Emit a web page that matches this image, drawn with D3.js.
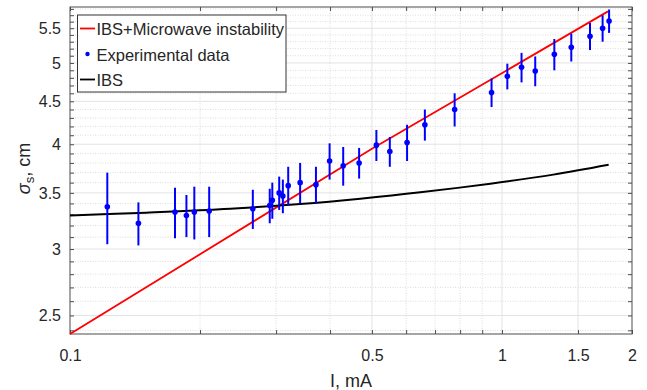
<!DOCTYPE html>
<html>
<head>
<meta charset="utf-8">
<script src="https://cdn.jsdelivr.net/npm/d3@7"></script>
<style>
  body { margin: 0; background: #fff; }
  text { font-family: "Liberation Sans", Arial, Helvetica, sans-serif; fill: #262626; }
</style>
</head>
<body>
<div id="chart"></div>
<script>
// Experimental bunch length vs current
const expCurrent = [0.122, 0.144, 0.175, 0.186, 0.194, 0.210, 0.265, 0.290, 0.294, 0.305, 0.311,
  0.320, 0.341, 0.371, 0.399, 0.429, 0.467, 0.512, 0.550, 0.603, 0.663, 0.777, 0.946, 1.029,
  1.110, 1.194, 1.322, 1.447, 1.599, 1.710, 1.770];
const expSigma = [3.37, 3.22, 3.32, 3.29, 3.32, 3.33, 3.35, 3.38, 3.43, 3.50, 3.47,
  3.57, 3.60, 3.58, 3.82, 3.77, 3.80, 3.99, 3.92, 4.02, 4.22, 4.40, 4.61, 4.82,
  4.94, 4.89, 5.12, 5.22, 5.38, 5.50, 5.61];
const expError = [0.33, 0.19, 0.23, 0.19, 0.24, 0.23, 0.18, 0.16, 0.17, 0.16, 0.16,
  0.19, 0.20, 0.18, 0.19, 0.20, 0.16, 0.17, 0.16, 0.20, 0.18, 0.20, 0.18, 0.17,
  0.20, 0.20, 0.22, 0.20, 0.20, 0.20, 0.18];

// IBS only model
const ibsCurrent = [0.1, 0.15, 0.235, 0.341, 0.47, 0.647, 0.94, 1.315, 1.766];
const ibsSigma = [3.29, 3.315, 3.35, 3.395, 3.445, 3.505, 3.59, 3.68, 3.78];

// IBS + microwave instability model (straight in log-log)
const mwCurrent = [0.1, 0.5, 1.76];
const mwSigma = [2.376, 3.95, 5.76];

// axis ticks
const xTicks = [0.1, 0.5, 1, 1.5, 2];
const xMinor = [0.2, 0.3, 0.4, 0.6, 0.7, 0.8, 0.9];
const yTicks = [2.5, 3, 3.5, 4, 4.5, 5, 5.5];

const width = 647, height = 390;
const margin = { top: 7, right: 15, bottom: 56, left: 70 };

const svg = d3.select("#chart").append("svg")
  .attr("width", width)
  .attr("height", height);

const x = d3.scaleLog()
  .domain([0.1, 2])
  .range([margin.left, width - margin.right]);

const y = d3.scaleLog()
  .domain([2.376, 5.83])
  .range([height - margin.bottom, margin.top]);

const yMinor = d3.range(24, 59).map(d => d / 10).filter(d => !yTicks.includes(d));

const x0 = x.range()[0], x1 = x.range()[1];
const y0 = y.range()[0], y1 = y.range()[1];

// minor grid (dotted)
const grid = svg.append("g");
grid.selectAll(".ym").data(yMinor).join("line")
  .attr("x1", x0).attr("x2", x1)
  .attr("y1", d => y(d)).attr("y2", d => y(d))
  .attr("stroke", "#d4d4d4").attr("stroke-width", 0.8)
  .attr("stroke-dasharray", "1,1.5");
grid.selectAll(".xm").data(xMinor).join("line")
  .attr("y1", y0).attr("y2", y1)
  .attr("x1", d => x(d)).attr("x2", d => x(d))
  .attr("stroke", "#d4d4d4").attr("stroke-width", 0.8)
  .attr("stroke-dasharray", "1,1.5");

// major grid (solid)
grid.selectAll(".yM").data(yTicks).join("line")
  .attr("x1", x0).attr("x2", x1)
  .attr("y1", d => y(d)).attr("y2", d => y(d))
  .attr("stroke", "#e3e3e3").attr("stroke-width", 1);
grid.selectAll(".xM").data(xTicks.slice(1, -1)).join("line")
  .attr("y1", y0).attr("y2", y1)
  .attr("x1", d => x(d)).attr("x2", d => x(d))
  .attr("stroke", "#e3e3e3").attr("stroke-width", 1);

// axes with ticks on all four sides
const axisColor = "#4d4d4d";
function styleAxis(g) {
  g.select(".domain").remove();
  g.selectAll(".tick line").attr("stroke", axisColor);
  g.selectAll(".tick text").attr("font-size", "16px").attr("fill", "#262626");
}
const allX = xTicks.concat(xMinor);
const allY = yTicks.concat(yMinor);

svg.append("g")
  .attr("transform", `translate(0,${y0})`)
  .call(d3.axisBottom(x).tickValues(allX).tickSize(-4).tickPadding(16)
    .tickFormat(d => xTicks.includes(d) ? d3.format("")(d) : ""))
  .call(styleAxis);
svg.append("g")
  .attr("transform", `translate(0,${y1})`)
  .call(d3.axisTop(x).tickValues(allX).tickSize(-4).tickFormat(""))
  .call(styleAxis);
svg.append("g")
  .attr("transform", `translate(${x0},0)`)
  .call(d3.axisLeft(y).tickValues(allY).tickSize(-4).tickPadding(9)
    .tickFormat(d => yTicks.includes(d) ? d3.format("")(d) : ""))
  .call(styleAxis);
svg.append("g")
  .attr("transform", `translate(${x1},0)`)
  .call(d3.axisRight(y).tickValues(allY).tickSize(-4).tickFormat(""))
  .call(styleAxis);

// box
svg.append("rect")
  .attr("x", x0).attr("y", y1)
  .attr("width", x1 - x0).attr("height", y0 - y1)
  .attr("fill", "none").attr("stroke", axisColor).attr("stroke-width", 1);

// model curves
const plot = svg.append("g");
const lineMw = d3.line().x(d => x(d[0])).y(d => y(d[1]));
const lineIbs = d3.line().curve(d3.curveCatmullRom).x(d => x(d[0])).y(d => y(d[1]));

plot.append("path")
  .datum(d3.zip(mwCurrent, mwSigma))
  .attr("fill", "none").attr("stroke", "#ff0000").attr("stroke-width", 1.8)
  .attr("d", lineMw);

plot.append("path")
  .datum(d3.zip(ibsCurrent, ibsSigma))
  .attr("fill", "none").attr("stroke", "#000").attr("stroke-width", 2)
  .attr("d", lineIbs);

// experimental points with error bars
const expData = expCurrent.map((c, i) => ({ c, s: expSigma[i], e: expError[i] }));
plot.selectAll(".err").data(expData).join("line")
  .attr("x1", d => x(d.c)).attr("x2", d => x(d.c))
  .attr("y1", d => y(d.s - d.e)).attr("y2", d => y(d.s + d.e))
  .attr("stroke", "#0000ff").attr("stroke-width", 2);
plot.selectAll(".pt").data(expData).join("circle")
  .attr("cx", d => x(d.c)).attr("cy", d => y(d.s))
  .attr("r", 2.8).attr("fill", "#0000ff");

// legend
const lg = svg.append("g");
lg.append("rect")
  .attr("x", 77.5).attr("y", 15).attr("width", 208.5).attr("height", 77)
  .attr("fill", "#fff").attr("stroke", "#333").attr("stroke-width", 1);
const legendItems = [
  { label: "IBS+Microwave instability", kind: "line", color: "#ff0000" },
  { label: "Experimental data", kind: "dot", color: "#0000ff" },
  { label: "IBS", kind: "line", color: "#000" }
];
legendItems.forEach((it, i) => {
  const cy = 28.5 + i * 25.5;
  if (it.kind === "line") {
    lg.append("line").attr("x1", 80).attr("x2", 95).attr("y1", cy).attr("y2", cy)
      .attr("stroke", it.color).attr("stroke-width", 1.8);
  } else {
    lg.append("circle").attr("cx", 87.5).attr("cy", cy).attr("r", 2.2).attr("fill", it.color);
  }
  lg.append("text").attr("x", 96.5).attr("y", cy + 6.5)
    .attr("font-size", "16.5px").text(it.label);
});

// axis labels
svg.append("text")
  .attr("x", (x0 + x1) / 2).attr("y", 387)
  .attr("text-anchor", "middle").attr("font-size", "18px")
  .text("I, mA");

const yl = svg.append("text")
  .attr("transform", `translate(30,${(y0 + y1) / 2 - 2}) rotate(-90)`)
  .attr("text-anchor", "middle").attr("font-size", "18px");
yl.append("tspan").attr("font-style", "italic").text("σ");
yl.append("tspan").attr("font-size", "13px").attr("dy", 4).text("s");
yl.append("tspan").attr("dy", -4).text(", cm");
</script>
</body>
</html>
